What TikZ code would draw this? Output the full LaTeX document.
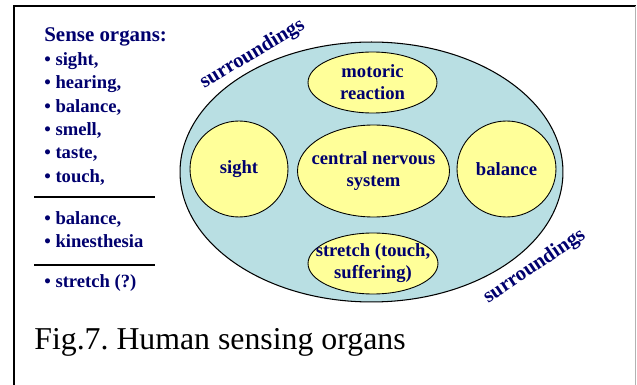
\documentclass[tikz,border=0pt]{standalone}
\usepackage{fontspec}
\setmainfont{Liberation Serif}
\usepackage{xcolor}
\usetikzlibrary{shapes.geometric}
\definecolor{organtext}{RGB}{0,0,110}
\definecolor{organfill}{RGB}{255,255,153}
\definecolor{worldfill}{RGB}{185,223,227}
\tikzset{
  organ/.style={ellipse,draw=black,line width=0.5pt,fill=organfill,inner sep=0pt},
  organlabel/.style={text=organtext,font=\fontsize{10.6}{12.6}\selectfont\bfseries,align=center},
  listitem/.style={anchor=base west,text=organtext,font=\fontsize{10.6}{12.6}\selectfont\bfseries,inner sep=0pt},
  worldlabel/.style={anchor=base west,text=organtext,font=\fontsize{11.8}{14}\selectfont\bfseries,inner sep=0pt}
}

\begin{document}
\frenchspacing
\begin{tikzpicture}[x=0.02cm,y=-0.02cm]
  \useasboundingbox (0,0) rectangle (637,385);
  % frame
  \draw[line width=1pt] (14,386) -- (14,6) -- (636,6);
  \draw[gray!60,line width=0.6pt] (635.5,6) -- (635.5,386);
  % left list
  \node[listitem,font=\fontsize{11.9}{14}\selectfont\bfseries] (head) at (44,42) {Sense organs:};
  \foreach \organ [count=\k] in {{sight,},{hearing,},{balance,},{smell,},{taste,},{touch,}}
    \node[listitem] (item\k) at (44,{42+23.4*\k}) {\textbullet\ \organ};
  \draw[line width=0.9pt] (34,197) -- (155,197);
  \node[listitem] (item7) at (44,225) {\textbullet\ balance,};
  \node[listitem] (item8) at (44,248) {\textbullet\ kinesthesia};
  \draw[line width=0.9pt] (34,265) -- (155,265);
  \node[listitem] (item9) at (44,288) {\textbullet\ stretch (?)};
  % surroundings
  \node[ellipse,draw=black,line width=0.6pt,fill=worldfill,inner sep=0pt,
        minimum width=7.66cm,minimum height=5.20cm] (world) at (371.5,172) {};
  \node[worldlabel,rotate=31] (worldtop) at (204,89) {surroundings};
  \node[worldlabel,rotate=34] (worldbot) at (488,304) {surroundings};
  % organs
  \node[organ,minimum width=1.96cm,minimum height=1.92cm,
        label={[organlabel]center:sight}] (sight) at (239,169) {};
  \node[organ,minimum width=2.58cm,minimum height=1.22cm,
        label={[organlabel]center:motoric\\reaction}] (motor) at (372.5,82.5) {};
  \node[organ,minimum width=3.04cm,minimum height=1.84cm,
        label={[organlabel]center:central nervous\\system}] (cns) at (373.5,171) {};
  \node[organ,minimum width=1.98cm,minimum height=1.92cm,
        label={[organlabel]center:balance}] (balance) at (506.5,169) {};
  \node[organ,minimum width=2.60cm,minimum height=1.22cm,
        label={[organlabel]center:stretch (touch,\\suffering)}] (stretch) at (373,263.5) {};
  % caption
  \node[anchor=base west,inner sep=0pt,font=\fontsize{18.1}{21}\selectfont] (caption) at (34,350) {Fig.7. Human sensing organs};
\end{tikzpicture}
\end{document}
